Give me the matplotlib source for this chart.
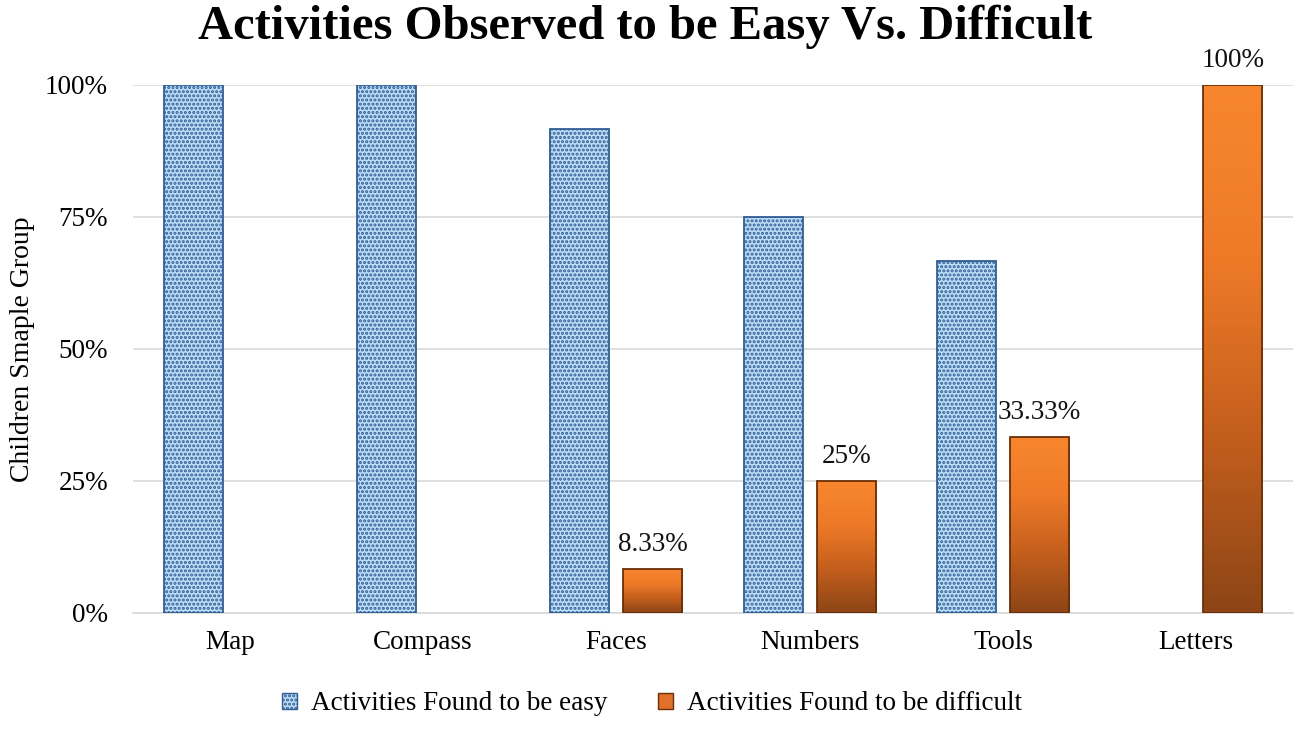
import matplotlib
matplotlib.use("Agg")
import matplotlib.pyplot as plt
import numpy as np
from matplotlib.colors import LinearSegmentedColormap
from matplotlib.patches import Patch

categories = ["Map", "Compass", "Faces", "Numbers", "Tools", "Letters"]
easy = [1.0, 1.0, 0.9167, 0.75, 0.6667, 0.0]
difficult = [0.0, 0.0, 0.0833, 0.25, 0.3333, 1.0]
difficult_labels = ["", "", "8.33%", "25%", "33.33%", "100%"]
yticks = [0, 0.25, 0.5, 0.75, 1.0]
ytick_labels = ["0%", "25%", "50%", "75%", "100%"]

plt.rcParams['font.family'] = ['Liberation Serif', 'DejaVu Serif']
plt.rcParams['hatch.linewidth'] = 1.5
plt.rcParams['hatch.color'] = '#345E8E'

FS = 19.5

fig = plt.figure(figsize=(13.01, 7.30), dpi=100)
ax = fig.add_axes([133/1301, 1 - 613/730, (1293-133)/1301, (613-85)/730])

x = np.arange(len(categories))
w = 0.306
off = 0.189

ebars = ax.bar(x - off, easy, width=w, facecolor='#BEDCF8', edgecolor='#2F5F93',
               linewidth=1.3, hatch='....', zorder=3)
dbars = ax.bar(x + off, difficult, width=w, facecolor='none', edgecolor='#6B2E08',
               linewidth=1.3, zorder=4)
for b in list(ebars) + list(dbars):
    if b.get_height() <= 0:
        b.set_visible(False)

cmap = LinearSegmentedColormap.from_list('og', ['#8C4516', '#C35E1D', '#EE7A28', '#F8862E'])
grad = np.linspace(0, 1, 256).reshape(-1, 1)
for b in dbars:
    h = b.get_height()
    if h <= 0:
        continue
    x0 = b.get_x()
    im = ax.imshow(grad, extent=[x0, x0 + b.get_width(), 0, h], origin='lower',
                   cmap=cmap, aspect='auto', zorder=3.5, interpolation='bicubic')
    im.set_clip_path(b)

for xi, v, lab in zip(x, difficult, difficult_labels):
    if lab:
        ax.text(xi + off, v + 0.022, lab, ha='center', va='bottom', fontsize=FS,
                color='#111111', clip_on=False)

ax.set_xlim(-0.5, len(categories) - 0.5)
ax.set_ylim(0, 1.0)
ax.set_yticks(yticks)
ax.set_yticklabels(ytick_labels, fontsize=FS)
ax.set_xticks(x)
ax.set_xticklabels(categories, fontsize=FS)
ax.tick_params(axis='x', length=0, pad=12)
ax.tick_params(axis='y', length=0, pad=18)
ax.yaxis.grid(True, color='#D9D9D9', linewidth=1.2, zorder=0)
ax.set_axisbelow(True)
for s in ['top', 'right', 'left']:
    ax.spines[s].set_visible(False)
ax.spines['bottom'].set_color('#D9D9D9')
ax.spines['bottom'].set_linewidth(1.2)

ax.set_ylabel("Children Smaple Group", fontsize=FS + 0.5)
ax.yaxis.set_label_coords(-(133 - 22) / (1293 - 133), 0.5)
ax.yaxis.label.set_va('center')

fig.text(645/1301, 1 - 27/730, "Activities Observed to be Easy Vs. Difficult",
         ha='center', va='center', fontsize=35, fontweight='bold')

handles = [Patch(facecolor='#BEDCF8', edgecolor='#2F5F93', hatch='....', linewidth=1.0),
           Patch(facecolor='#E0702A', edgecolor='#6B2E08', linewidth=1.0)]
fig.legend(handles, ["Activities Found to be easy", "Activities Found to be difficult"],
           loc='center', bbox_to_anchor=(652/1301, 1 - 704/730), ncol=2, frameon=False,
           fontsize=FS, handlelength=0.55, handleheight=0.55, handletextpad=0.5,
           columnspacing=1.9)

fig.savefig("out.png", dpi=100)
